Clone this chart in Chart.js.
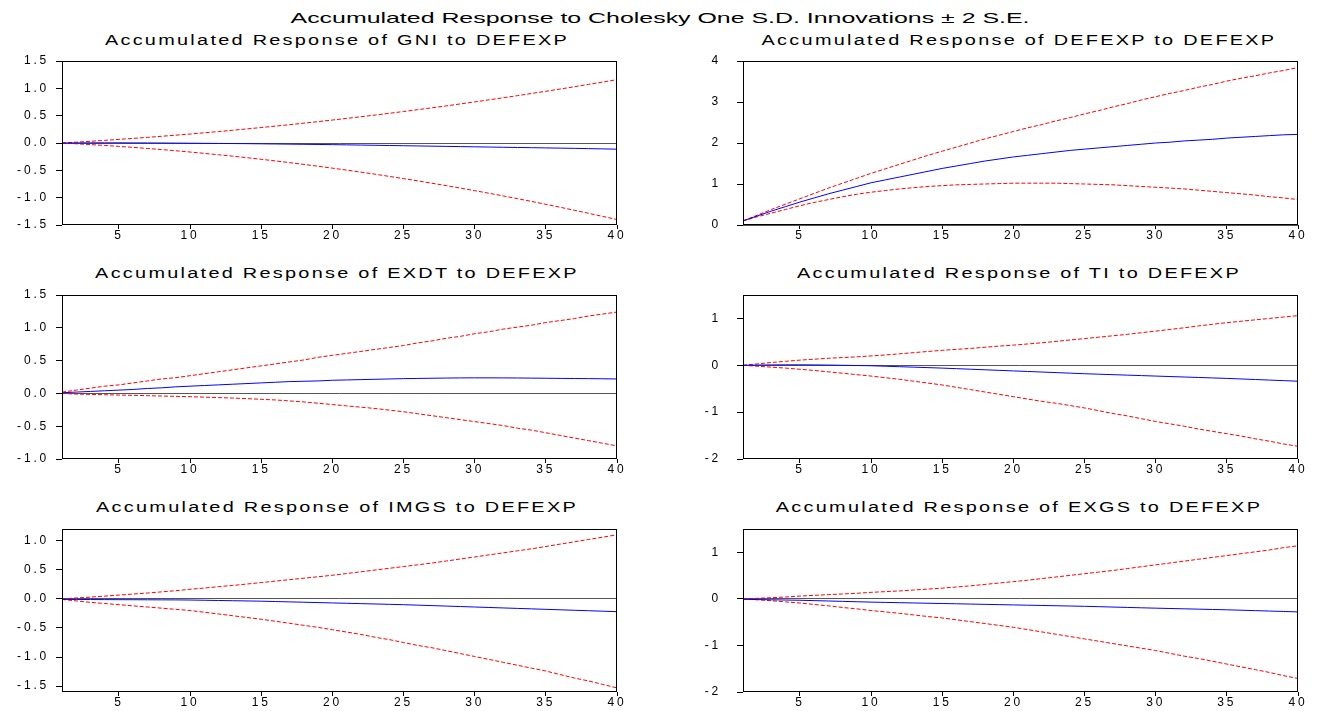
<!DOCTYPE html>
<html>
<head>
<meta charset="utf-8">
<script src="https://cdn.jsdelivr.net/npm/chart.js@4.4.1/dist/chart.umd.min.js"></script>
<style>
  body { margin: 0; background: #fff; width: 1321px; height: 711px; overflow: hidden; position: relative; font-family: 'Liberation Sans', Arial, sans-serif; }
  .ttl { position: absolute; white-space: nowrap; line-height: 1; color: #000; }
  .sub { font-size: 14px; letter-spacing: 1.6px; transform: translate(-50%,-50%) scaleX(1.42); }
  .cv { position: absolute; }
</style>
</head>
<body>
<div class="ttl" style="left:660px;top:17px;font-size:15px;transform:translate(-50%,-50%) scaleX(1.66)">Accumulated Response to Cholesky One S.D. Innovations ± 2 S.E.</div>
<div class="ttl sub" style="left:337px;top:40px">Accumulated Response of GNI to DEFEXP</div>
<div class="ttl sub" style="left:1019px;top:40px">Accumulated Response of DEFEXP to DEFEXP</div>
<div class="ttl sub" style="left:337px;top:273px">Accumulated Response of EXDT to DEFEXP</div>
<div class="ttl sub" style="left:1019px;top:273px">Accumulated Response of TI to DEFEXP</div>
<div class="ttl sub" style="left:337px;top:507px">Accumulated Response of IMGS to DEFEXP</div>
<div class="ttl sub" style="left:1019px;top:507px">Accumulated Response of EXGS to DEFEXP</div>

<canvas id="c1" class="cv" style="left:0;top:35px" width="640" height="215"></canvas>
<canvas id="c2" class="cv" style="left:660px;top:35px" width="661" height="215"></canvas>
<canvas id="c3" class="cv" style="left:0;top:269px" width="640" height="215"></canvas>
<canvas id="c4" class="cv" style="left:660px;top:269px" width="661" height="215"></canvas>
<canvas id="c5" class="cv" style="left:0;top:503px" width="640" height="214"></canvas>
<canvas id="c6" class="cv" style="left:660px;top:503px" width="661" height="214"></canvas>

<script>
// periods on the x axis
const periods = [1,2,3,4,5,6,7,8,9,10,11,12,13,14,15,16,17,18,19,20,21,22,23,24,25,26,27,28,29,30,31,32,33,34,35,36,37,38,39,40];
const xTicks = [5,10,15,20,25,30,35,40];

// GNI
const gniResp = [0,0.002,0.003,0.003,0.003,0.002,0.001,0,-0.002,-0.004,-0.006,-0.008,-0.010,-0.012,-0.015,-0.018,-0.021,-0.024,-0.027,-0.030,-0.034,-0.038,-0.042,-0.046,-0.050,-0.054,-0.058,-0.062,-0.066,-0.070,-0.074,-0.078,-0.082,-0.086,-0.090,-0.094,-0.098,-0.103,-0.108,-0.113];
const gniUp = [0,0.015,0.031,0.048,0.066,0.084,0.103,0.123,0.143,0.164,0.187,0.209,0.233,0.258,0.283,0.309,0.335,0.363,0.391,0.420,0.450,0.480,0.511,0.543,0.576,0.610,0.644,0.679,0.715,0.752,0.789,0.827,0.866,0.906,0.946,0.987,1.029,1.072,1.115,1.159];
const gniLo = [0,-0.014,-0.029,-0.045,-0.062,-0.080,-0.100,-0.120,-0.142,-0.165,-0.190,-0.215,-0.241,-0.269,-0.298,-0.328,-0.359,-0.392,-0.425,-0.460,-0.496,-0.533,-0.571,-0.611,-0.651,-0.693,-0.736,-0.780,-0.825,-0.872,-0.919,-0.968,-1.018,-1.069,-1.122,-1.175,-1.230,-1.286,-1.343,-1.400];

// DEFEXP
const defResp = [0.10,0.22,0.34,0.45,0.56,0.66,0.76,0.85,0.94,1.03,1.10,1.17,1.24,1.31,1.38,1.44,1.50,1.56,1.61,1.66,1.70,1.74,1.78,1.82,1.85,1.88,1.91,1.94,1.97,2.00,2.02,2.05,2.07,2.09,2.12,2.14,2.16,2.18,2.20,2.21];
const defUp = [0.10,0.24,0.38,0.51,0.64,0.77,0.90,1.02,1.14,1.26,1.37,1.48,1.59,1.70,1.80,1.90,2.00,2.10,2.19,2.28,2.37,2.45,2.54,2.62,2.71,2.79,2.88,2.96,3.05,3.13,3.21,3.28,3.36,3.43,3.51,3.58,3.64,3.71,3.77,3.84];
const defLo = [0.10,0.20,0.29,0.38,0.47,0.55,0.62,0.69,0.75,0.80,0.84,0.88,0.91,0.94,0.96,0.98,0.99,1.00,1.01,1.02,1.02,1.02,1.02,1.01,1.00,0.99,0.98,0.96,0.94,0.92,0.90,0.88,0.85,0.82,0.79,0.76,0.73,0.69,0.66,0.62];

// EXDT
const exdtResp = [0.01,0.02,0.03,0.04,0.05,0.06,0.075,0.085,0.10,0.11,0.12,0.13,0.14,0.15,0.16,0.17,0.18,0.185,0.19,0.20,0.205,0.21,0.215,0.22,0.225,0.228,0.231,0.234,0.236,0.237,0.237,0.236,0.235,0.233,0.231,0.229,0.227,0.225,0.223,0.22];
const exdtUp = [0.02,0.05,0.08,0.11,0.13,0.16,0.19,0.22,0.24,0.27,0.30,0.33,0.36,0.39,0.42,0.45,0.48,0.51,0.55,0.58,0.61,0.64,0.67,0.70,0.73,0.77,0.80,0.84,0.87,0.91,0.94,0.98,1.01,1.04,1.08,1.11,1.14,1.18,1.21,1.24];
const exdtLo = [0,-0.01,-0.015,-0.02,-0.025,-0.03,-0.035,-0.04,-0.045,-0.05,-0.057,-0.064,-0.071,-0.08,-0.09,-0.10,-0.115,-0.13,-0.15,-0.17,-0.19,-0.21,-0.23,-0.255,-0.28,-0.31,-0.34,-0.37,-0.40,-0.43,-0.46,-0.49,-0.53,-0.56,-0.60,-0.64,-0.68,-0.72,-0.76,-0.80];

// TI
const tiResp = [0,0.005,0.008,0.01,0.01,0.008,0.005,0,-0.005,-0.01,-0.02,-0.03,-0.04,-0.05,-0.06,-0.072,-0.084,-0.096,-0.108,-0.12,-0.132,-0.144,-0.156,-0.168,-0.18,-0.19,-0.20,-0.21,-0.22,-0.23,-0.24,-0.25,-0.26,-0.27,-0.28,-0.292,-0.304,-0.316,-0.328,-0.34];
const tiUp = [0,0.03,0.06,0.085,0.11,0.13,0.15,0.165,0.18,0.20,0.22,0.245,0.27,0.295,0.32,0.34,0.36,0.385,0.41,0.43,0.455,0.48,0.51,0.54,0.57,0.60,0.63,0.66,0.695,0.73,0.765,0.80,0.84,0.875,0.91,0.94,0.97,1.00,1.03,1.06];
const tiLo = [0,-0.02,-0.04,-0.06,-0.085,-0.11,-0.14,-0.17,-0.20,-0.23,-0.265,-0.30,-0.34,-0.38,-0.42,-0.47,-0.52,-0.57,-0.62,-0.67,-0.72,-0.77,-0.81,-0.86,-0.91,-0.97,-1.03,-1.08,-1.14,-1.20,-1.25,-1.30,-1.36,-1.41,-1.46,-1.51,-1.57,-1.62,-1.68,-1.73];

// IMGS
const imgsResp = [-0.01,-0.01,-0.012,-0.013,-0.014,-0.015,-0.016,-0.017,-0.018,-0.02,-0.024,-0.028,-0.032,-0.036,-0.04,-0.046,-0.052,-0.058,-0.064,-0.07,-0.076,-0.082,-0.088,-0.094,-0.10,-0.108,-0.116,-0.124,-0.132,-0.14,-0.148,-0.156,-0.164,-0.172,-0.18,-0.188,-0.196,-0.204,-0.212,-0.22];
const imgsUp = [0,0.015,0.03,0.047,0.065,0.083,0.10,0.12,0.14,0.165,0.185,0.21,0.23,0.255,0.28,0.305,0.33,0.355,0.38,0.405,0.435,0.465,0.495,0.525,0.555,0.585,0.615,0.65,0.685,0.72,0.755,0.79,0.825,0.86,0.90,0.94,0.98,1.02,1.06,1.10];
const imgsLo = [-0.01,-0.035,-0.06,-0.08,-0.10,-0.12,-0.14,-0.16,-0.18,-0.20,-0.23,-0.26,-0.29,-0.32,-0.35,-0.385,-0.42,-0.455,-0.49,-0.53,-0.57,-0.61,-0.66,-0.70,-0.75,-0.80,-0.84,-0.89,-0.94,-0.99,-1.04,-1.09,-1.14,-1.19,-1.24,-1.30,-1.36,-1.41,-1.47,-1.53];

// EXGS
const exgsResp = [-0.01,-0.015,-0.02,-0.025,-0.03,-0.038,-0.046,-0.054,-0.062,-0.07,-0.076,-0.082,-0.088,-0.094,-0.10,-0.106,-0.112,-0.118,-0.124,-0.13,-0.136,-0.142,-0.148,-0.154,-0.16,-0.168,-0.176,-0.184,-0.192,-0.20,-0.207,-0.214,-0.221,-0.228,-0.235,-0.244,-0.253,-0.262,-0.271,-0.28];
const exgsUp = [0,0.012,0.025,0.04,0.06,0.075,0.09,0.105,0.12,0.14,0.155,0.17,0.19,0.21,0.23,0.255,0.28,0.31,0.34,0.37,0.40,0.435,0.47,0.505,0.54,0.575,0.61,0.65,0.69,0.73,0.77,0.81,0.85,0.89,0.93,0.97,1.01,1.05,1.10,1.14];
const exgsLo = [0,-0.02,-0.04,-0.065,-0.09,-0.12,-0.15,-0.185,-0.215,-0.25,-0.28,-0.31,-0.345,-0.38,-0.41,-0.45,-0.49,-0.53,-0.57,-0.61,-0.66,-0.71,-0.76,-0.81,-0.86,-0.91,-0.96,-1.01,-1.06,-1.11,-1.17,-1.23,-1.28,-1.34,-1.40,-1.46,-1.52,-1.58,-1.65,-1.71];

// y tick labels per panel
const yTicksHalf15 = [-1.5,-1.0,-0.5,0,0.5,1.0,1.5];
const yTicksDef = [0,1,2,3,4];
const yTicksExdt = [-1.0,-0.5,0,0.5,1.0,1.5];
const yTicksUnit = [-2,-1,0,1];
const yTicksImgs = [-1.5,-1.0,-0.5,0,0.5,1.0];

Chart.defaults.font.family = "'Liberation Sans', Arial, sans-serif";
Chart.defaults.font.size = 12;
Chart.defaults.font.lineHeight = '14px';
Chart.defaults.color = '#000';

const boxPlugin = {
    id: 'box',
    beforeDraw(chart) { chart.ctx.letterSpacing = '2.8px'; },
    afterDraw(chart) {
        const a = chart.chartArea, ctx = chart.ctx;
        ctx.save();
        ctx.strokeStyle = '#000';
        ctx.lineWidth = 1;
        ctx.strokeRect(Math.round(a.left) + 0.5, Math.round(a.top) + 0.5, Math.round(a.right - a.left) - 1, Math.round(a.bottom - a.top) - 1);
        ctx.restore();
    }
};

function makePanel(id, resp, up, lo, yMin, yMax, yTicks, dec, right) {
    const pts = arr => periods.map((p, i) => ({ x: p, y: arr[i] }));
    new Chart(document.getElementById(id), {
        type: 'line',
        data: {
            datasets: [
                { data: pts(resp), borderColor: '#0000ff', borderWidth: 1 },
                { data: pts(up), borderColor: '#ff0000', borderWidth: 1, borderDash: [4, 2] },
                { data: pts(lo), borderColor: '#ff0000', borderWidth: 1, borderDash: [4, 2] }
            ]
        },
        options: {
            responsive: false,
            animation: false,
            events: [],
            elements: { point: { radius: 0 }, line: { tension: 0 } },
            // top/bottom padding kept above the y label overflow so the plot box is fixed
            layout: { padding: { top: 26, right: 23, left: 0, bottom: 5 } },
            plugins: { legend: { display: false }, tooltip: { enabled: false } },
            scales: {
                x: {
                    type: 'linear', min: 1, max: 40,
                    afterBuildTicks: s => { s.ticks = xTicks.map(v => ({ value: v })); },
                    afterFit: s => { s.height = 20; },
                    border: { display: false },
                    grid: { drawOnChartArea: false, tickLength: 4, tickColor: '#000' },
                    ticks: { padding: 0, maxRotation: 0, autoSkip: false }
                },
                y: {
                    min: yMin, max: yMax,
                    afterBuildTicks: s => { s.ticks = yTicks.map(v => ({ value: v })); },
                    afterFit: s => { s.width = right ? 83 : 62; },
                    border: { display: false },
                    grid: {
                        color: c => (c.tick && c.tick.value === 0) ? '#555' : 'rgba(0,0,0,0)',
                        tickLength: 6, tickColor: '#000'
                    },
                    ticks: { padding: right ? 16 : 7, callback: v => Number(v).toFixed(dec) }
                }
            }
        },
        plugins: [boxPlugin]
    });
}

makePanel('c1', gniResp, gniUp, gniLo, -1.5, 1.5, yTicksHalf15, 1, false);
makePanel('c2', defResp, defUp, defLo, 0, 4, yTicksDef, 0, true);
makePanel('c3', exdtResp, exdtUp, exdtLo, -1.0, 1.5, yTicksExdt, 1, false);
makePanel('c4', tiResp, tiUp, tiLo, -2, 1.5, yTicksUnit, 0, true);
makePanel('c5', imgsResp, imgsUp, imgsLo, -1.6, 1.2, yTicksImgs, 1, false);
makePanel('c6', exgsResp, exgsUp, exgsLo, -2, 1.5, yTicksUnit, 0, true);
</script>
</body>
</html>
